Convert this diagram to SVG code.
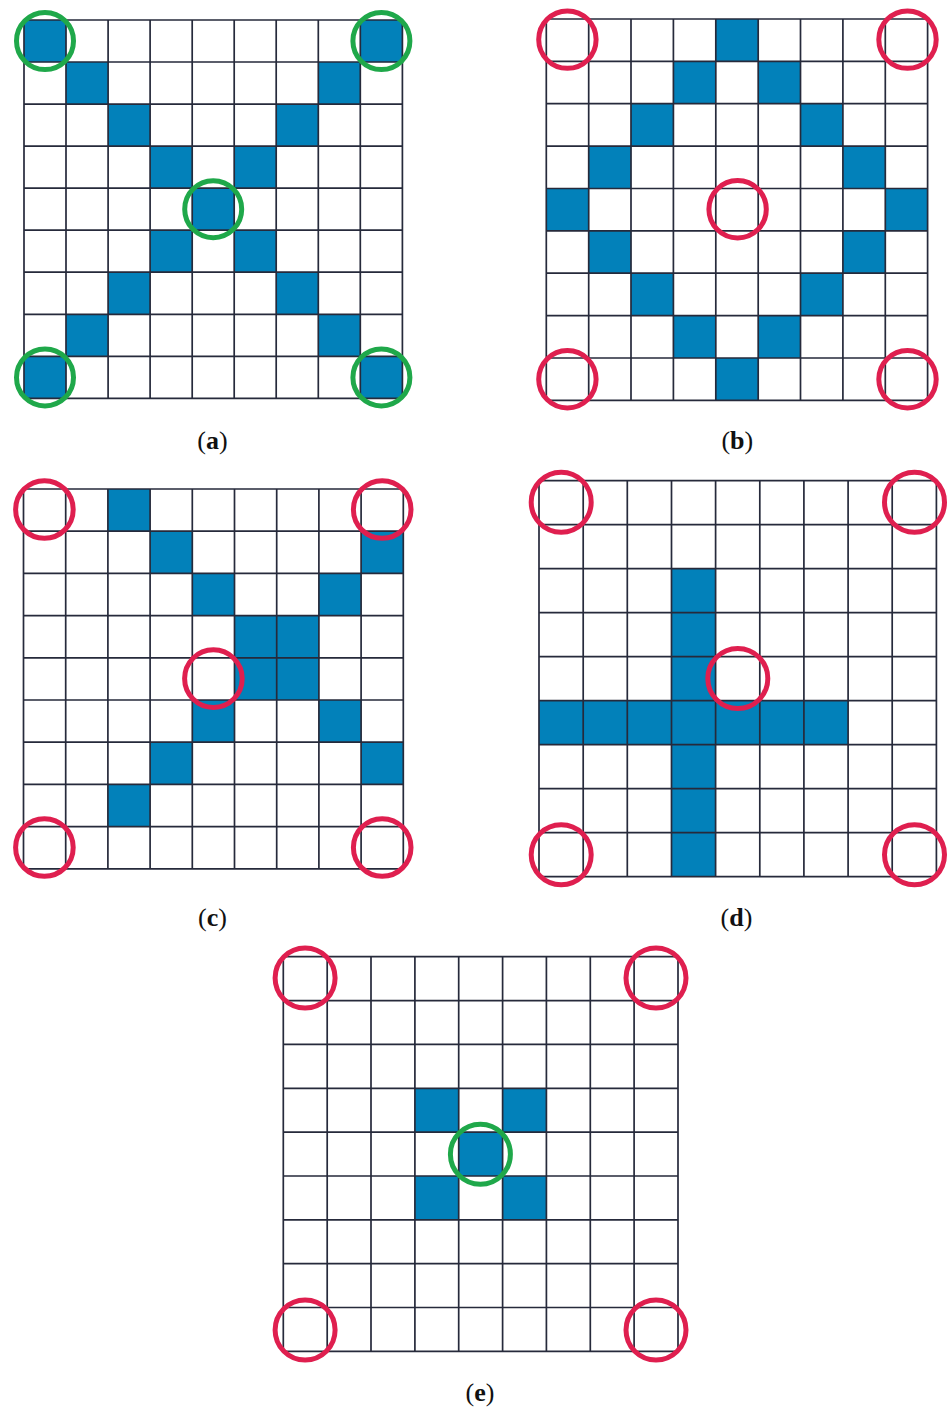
<svg xmlns="http://www.w3.org/2000/svg" width="948" height="1412" viewBox="0 0 948 1412">
<style>
.bg{fill:#ffffff}
.cell{fill:#0281ba}
.grid{fill:none;stroke:#262a3b;stroke-width:1.7}
.ok{fill:none;stroke:#1fa84a;stroke-width:5}
.bad{fill:none;stroke:#df1f4f;stroke-width:5}
.lbl{font-family:"Liberation Serif","Times New Roman",serif;font-size:26px;fill:#111111;text-anchor:middle}
.b{font-weight:bold}
</style>
<rect class="bg" x="0" y="0" width="948" height="1412"/>

<g id="panel-a">
<g id="a-cells">
<rect class="cell" x="24" y="20" width="42.1" height="42.1"/>
<rect class="cell" x="360.3" y="20" width="42.1" height="42.1"/>
<rect class="cell" x="66" y="62" width="42.1" height="42.1"/>
<rect class="cell" x="318.3" y="62" width="42.1" height="42.1"/>
<rect class="cell" x="108.1" y="104.1" width="42.1" height="42.1"/>
<rect class="cell" x="276.2" y="104.1" width="42.1" height="42.1"/>
<rect class="cell" x="150.1" y="146.1" width="42.1" height="42.1"/>
<rect class="cell" x="234.2" y="146.1" width="42.1" height="42.1"/>
<rect class="cell" x="192.2" y="188.2" width="42.1" height="42.1"/>
<rect class="cell" x="150.1" y="230.2" width="42.1" height="42.1"/>
<rect class="cell" x="234.2" y="230.2" width="42.1" height="42.1"/>
<rect class="cell" x="108.1" y="272.2" width="42.1" height="42.1"/>
<rect class="cell" x="276.2" y="272.2" width="42.1" height="42.1"/>
<rect class="cell" x="66" y="314.3" width="42.1" height="42.1"/>
<rect class="cell" x="318.3" y="314.3" width="42.1" height="42.1"/>
<rect class="cell" x="24" y="356.3" width="42.1" height="42.1"/>
<rect class="cell" x="360.3" y="356.3" width="42.1" height="42.1"/>
</g>
<path class="grid" d="M24 20V398.4M66 20V398.4M108.1 20V398.4M150.1 20V398.4M192.2 20V398.4M234.2 20V398.4M276.2 20V398.4M318.3 20V398.4M360.3 20V398.4M402.4 20V398.4M24 20H402.4M24 62H402.4M24 104.1H402.4M24 146.1H402.4M24 188.2H402.4M24 230.2H402.4M24 272.2H402.4M24 314.3H402.4M24 356.3H402.4M24 398.4H402.4"/>
<circle class="ok" cx="45" cy="41" r="28.5"/>
<circle class="ok" cx="381.4" cy="41" r="28.5"/>
<circle class="ok" cx="213.2" cy="209.2" r="28.5"/>
<circle class="ok" cx="45" cy="377.4" r="28.5"/>
<circle class="ok" cx="381.4" cy="377.4" r="28.5"/>
<text class="lbl" x="212.5" y="449">(<tspan class="b">a</tspan>)</text>
</g>

<g id="panel-b">
<g id="b-cells">
<rect class="cell" x="715.8" y="19" width="42.4" height="42.4"/>
<rect class="cell" x="673.4" y="61.4" width="42.4" height="42.4"/>
<rect class="cell" x="758.2" y="61.4" width="42.4" height="42.4"/>
<rect class="cell" x="631" y="103.7" width="42.4" height="42.4"/>
<rect class="cell" x="800.5" y="103.7" width="42.4" height="42.4"/>
<rect class="cell" x="588.7" y="146.1" width="42.4" height="42.4"/>
<rect class="cell" x="842.9" y="146.1" width="42.4" height="42.4"/>
<rect class="cell" x="546.3" y="188.5" width="42.4" height="42.4"/>
<rect class="cell" x="885.3" y="188.5" width="42.4" height="42.4"/>
<rect class="cell" x="588.7" y="230.9" width="42.4" height="42.4"/>
<rect class="cell" x="842.9" y="230.9" width="42.4" height="42.4"/>
<rect class="cell" x="631" y="273.2" width="42.4" height="42.4"/>
<rect class="cell" x="800.5" y="273.2" width="42.4" height="42.4"/>
<rect class="cell" x="673.4" y="315.6" width="42.4" height="42.4"/>
<rect class="cell" x="758.2" y="315.6" width="42.4" height="42.4"/>
<rect class="cell" x="715.8" y="358" width="42.4" height="42.4"/>
</g>
<path class="grid" d="M546.3 19V400.3M588.7 19V400.3M631 19V400.3M673.4 19V400.3M715.8 19V400.3M758.2 19V400.3M800.5 19V400.3M842.9 19V400.3M885.3 19V400.3M927.6 19V400.3M546.3 19H927.6M546.3 61.4H927.6M546.3 103.7H927.6M546.3 146.1H927.6M546.3 188.5H927.6M546.3 230.9H927.6M546.3 273.2H927.6M546.3 315.6H927.6M546.3 358H927.6M546.3 400.3H927.6"/>
<circle class="bad" cx="567.4" cy="39.6" r="28.7"/>
<circle class="bad" cx="907.5" cy="39.6" r="28.7"/>
<circle class="bad" cx="737.6" cy="209.2" r="28.7"/>
<circle class="bad" cx="567.4" cy="379.3" r="28.7"/>
<circle class="bad" cx="907.5" cy="379.3" r="28.7"/>
<text class="lbl" x="737.3" y="449">(<tspan class="b">b</tspan>)</text>
</g>

<g id="panel-c">
<g id="c-cells">
<rect class="cell" x="107.9" y="489" width="42.2" height="42.2"/>
<rect class="cell" x="150.1" y="531.2" width="42.2" height="42.2"/>
<rect class="cell" x="361.1" y="531.2" width="42.2" height="42.2"/>
<rect class="cell" x="192.3" y="573.4" width="42.2" height="42.2"/>
<rect class="cell" x="318.9" y="573.4" width="42.2" height="42.2"/>
<rect class="cell" x="234.5" y="615.6" width="84.4" height="84.4"/>
<rect class="cell" x="192.3" y="700" width="42.2" height="42.2"/>
<rect class="cell" x="318.9" y="700" width="42.2" height="42.2"/>
<rect class="cell" x="150.1" y="742.2" width="42.2" height="42.2"/>
<rect class="cell" x="361.1" y="742.2" width="42.2" height="42.2"/>
<rect class="cell" x="107.9" y="784.4" width="42.2" height="42.2"/>
</g>
<path class="grid" d="M23.5 489V868.8M65.7 489V868.8M107.9 489V868.8M150.1 489V868.8M192.3 489V868.8M234.5 489V868.8M276.7 489V868.8M318.9 489V868.8M361.1 489V868.8M403.3 489V868.8M23.5 489H403.3M23.5 531.2H403.3M23.5 573.4H403.3M23.5 615.6H403.3M23.5 657.8H403.3M23.5 700H403.3M23.5 742.2H403.3M23.5 784.4H403.3M23.5 826.6H403.3M23.5 868.8H403.3"/>
<circle class="bad" cx="44.4" cy="509.5" r="28.8"/>
<circle class="bad" cx="382.2" cy="509.5" r="28.8"/>
<circle class="bad" cx="213.4" cy="678.6" r="28.8"/>
<circle class="bad" cx="44.4" cy="847.5" r="28.8"/>
<circle class="bad" cx="382.2" cy="847.5" r="28.8"/>
<text class="lbl" x="212.5" y="925.5">(<tspan class="b">c</tspan>)</text>
</g>

<g id="panel-d">
<g id="d-cells">
<rect class="cell" x="671.5" y="568.7" width="44.1" height="308"/>
<rect class="cell" x="539" y="700.7" width="309.1" height="44"/>
</g>
<path class="grid" d="M539 480.7V876.7M583.2 480.7V876.7M627.3 480.7V876.7M671.5 480.7V876.7M715.6 480.7V876.7M759.8 480.7V876.7M803.9 480.7V876.7M848.1 480.7V876.7M892.2 480.7V876.7M936.4 480.7V876.7M539 480.7H936.4M539 524.7H936.4M539 568.7H936.4M539 612.7H936.4M539 656.7H936.4M539 700.7H936.4M539 744.7H936.4M539 788.7H936.4M539 832.7H936.4M539 876.7H936.4"/>
<circle class="bad" cx="561.2" cy="502.2" r="30"/>
<circle class="bad" cx="914.5" cy="502.2" r="30"/>
<circle class="bad" cx="737.8" cy="678.5" r="30"/>
<circle class="bad" cx="561.2" cy="854.8" r="30"/>
<circle class="bad" cx="914.5" cy="854.8" r="30"/>
<text class="lbl" x="736.5" y="925.5">(<tspan class="b">d</tspan>)</text>
</g>

<g id="panel-e">
<g id="e-cells">
<rect class="cell" x="414.9" y="1088.3" width="43.9" height="43.9"/>
<rect class="cell" x="502.6" y="1088.3" width="43.9" height="43.9"/>
<rect class="cell" x="458.7" y="1132.1" width="43.9" height="43.9"/>
<rect class="cell" x="414.9" y="1176" width="43.9" height="43.9"/>
<rect class="cell" x="502.6" y="1176" width="43.9" height="43.9"/>
</g>
<path class="grid" d="M283.3 956.7V1351.4M327.2 956.7V1351.4M371 956.7V1351.4M414.9 956.7V1351.4M458.7 956.7V1351.4M502.6 956.7V1351.4M546.4 956.7V1351.4M590.3 956.7V1351.4M634.1 956.7V1351.4M678 956.7V1351.4M283.3 956.7H678M283.3 1000.6H678M283.3 1044.4H678M283.3 1088.3H678M283.3 1132.1H678M283.3 1176H678M283.3 1219.8H678M283.3 1263.7H678M283.3 1307.5H678M283.3 1351.4H678"/>
<circle class="bad" cx="305.1" cy="978" r="30"/>
<circle class="bad" cx="656" cy="978" r="30"/>
<circle class="ok" cx="480.4" cy="1154.2" r="30"/>
<circle class="bad" cx="305.1" cy="1330" r="30"/>
<circle class="bad" cx="656" cy="1330" r="30"/>
<text class="lbl" x="480" y="1400.5">(<tspan class="b">e</tspan>)</text>
</g>
</svg>
